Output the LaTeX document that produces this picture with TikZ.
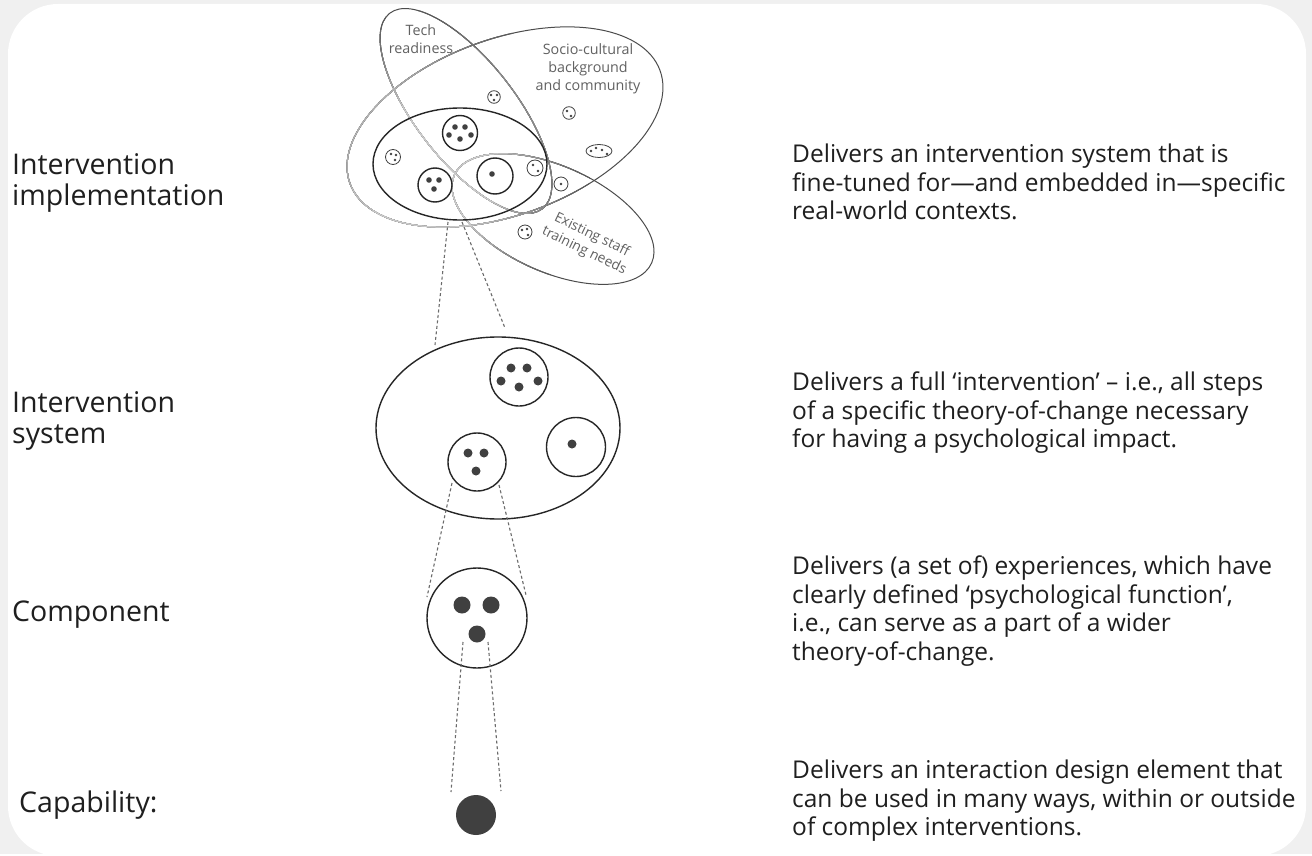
\documentclass[tikz,border=0pt]{standalone}
\usepackage{fontspec}
\setmainfont{Open Sans}
\begin{document}
\begin{tikzpicture}[x=1pt,y=-1pt,
  lvl/.style={anchor=west,align=left,inner sep=0,font=\fontsize{28.5}{31}\selectfont,text=black!88},
  desc/.style={anchor=west,align=left,inner sep=0,font=\fontsize{24.5}{28.5}\selectfont,text=black!88},
  ctx/.style={align=center,inner sep=0,font=\fontsize{14.3}{18}\selectfont,text=black!62},
  link/.style={draw=black!58,dash pattern=on 3pt off 2.5pt,line width=1.1pt},
  grp/.style={draw=black!85,line width=1.4pt},
  pip/.style={fill=black!75},
  speck/.style={draw=black!75,line width=0.8pt}]
% background card
\fill [black!6] (0,0) rectangle (1312,854);
\fill [white,rounded corners=50pt] (8,4) rectangle (1306,856);
\useasboundingbox (0,0) rectangle (1312,854);
% level names
\node [lvl] (implLbl) at (12,183) {Intervention\\implementation};
\node [lvl] (sysLbl) at (12,421) {Intervention\\system};
\node [lvl] (compLbl) at (12,615) {Component};
\node [lvl] (capLbl) at (19,805) {Capability:};
% descriptions
\node [desc] (implTxt) at (792,182) {Delivers an intervention system that is\\fine-tuned for---and embedded in---specific\\real-world contexts.};
\node [desc] (sysTxt) at (792,413) {Delivers a full `intervention' -- i.e., all steps\\of a specific theory-of-change necessary\\for having a psychological impact.};
\node [desc] (compTxt) at (792,611) {Delivers (a set of) experiences, which have\\clearly defined `psychological function',\\i.e., can serve as a part of a wider\\theory-of-change.};
\node [desc] (capTxt) at (792,801) {Delivers an interaction design element that\\can be used in many ways, within or outside\\of complex interventions.};
% context ellipses, fading towards the middle
\foreach \r/\c in {2000/70,160/65,150/60,140/55,130/50,120/45,110/40,100/35,90/30,80/25,70/20}
{
  \begin{scope}
  \clip (430,170) circle (\r);
  \foreach \cx/\cy/\ang/\ra/\rb in {466/111/-52/124/50,505/127/20/165/88,553/219/-24/108/53}
    \draw [draw=black!\c,line width=1pt,rotate around={\ang:(\cx,\cy)}] (\cx,\cy) ellipse [x radius=\ra, y radius=\rb];
  \end{scope}
}
\node [ctx] (tech) at (421,39) {Tech\\readiness};
\node [ctx] (socio) at (588,69) {Socio-cultural\\background\\and community};
\node [ctx,rotate=-26,font=\fontsize{13.8}{17.5}\selectfont] (staff) at (588,243) {Existing staff\\training needs};
% small context components
\draw [speck] (494,97) circle (6.3);
\foreach \p in {(491,95),(497,95),(494,100)} \fill [pip] \p circle (1.3);
\draw [speck] (569,113) circle (6.3);
\foreach \p in {(567,111),(571,116)} \fill [pip] \p circle (1.3);
\draw [speck] (599,151) ellipse [x radius=13, y radius=6.5];
\foreach \p in {(591,151),(596,148),(602,150),(607,154)} \fill [pip] \p circle (1.3);
\draw [speck] (561,184) circle (7);
\fill [pip] (561,184) circle (1.3);
\draw [speck] (525,232) circle (7);
\foreach \p in {(522,230),(527,229),(528,235)} \fill [pip] \p circle (1.3);
\draw [speck] (393,157) circle (7.5);
\foreach \p in {(391,154),(396,155),(395,160)} \fill [pip] \p circle (1.3);
\draw [speck] (535,168) circle (8);
\foreach \p in {(533,165),(538,171)} \fill [pip] \p circle (1.3);
% intervention implementation
\draw [grp] (460,164) ellipse [x radius=87, y radius=56];
\node [circle,grp,minimum size=35,inner sep=0] (implA) at (460,133) {};
\foreach \p in {(455,127),(465,127),(449,135),(471,135),(460,139)} \fill [pip] \p circle (2.8);
\node [circle,grp,minimum size=34,inner sep=0] (implB) at (435,185) {};
\foreach \p in {(429,180),(439,180),(434,189)} \fill [pip] \p circle (2.8);
\node [circle,grp,minimum size=36,inner sep=0] (implC) at (495,176) {};
\fill [pip] (492,174) circle (2.8);
% intervention system
\draw [grp] (498,428) ellipse [x radius=122, y radius=91];
\node [circle,grp,minimum size=58,inner sep=0] (sysA) at (519,377) {};
\foreach \p in {(511,368),(527,368),(501,381),(538,381),(519,387)} \fill [pip] \p circle (4.5);
\node [circle,grp,minimum size=58,inner sep=0] (sysB) at (477,462) {};
\foreach \p in {(468,453),(484,453),(476,471)} \fill [pip] \p circle (4.5);
\node [circle,grp,minimum size=59,inner sep=0] (sysC) at (576,447) {};
\fill [pip] (572,444) circle (4.5);
% component and capability
\node [circle,grp,minimum size=100,inner sep=0] (comp) at (477,618) {};
\foreach \p in {(462,605),(491,605),(477,634)} \fill [pip] \p circle (8.5);
\node [circle,fill=black!75,minimum size=40,inner sep=0] (cap) at (476,815) {};
% zoom lines
\coordinate (implL) at (448,222); \coordinate (implR) at (462,222);
\coordinate (sysTL) at (435,345); \coordinate (sysTR) at (505,328);
\coordinate (sysL) at (452,483); \coordinate (sysR) at (499,485);
\coordinate (compTL) at (427,597); \coordinate (compTR) at (526,595);
\coordinate (compL) at (463,642); \coordinate (compR) at (488,642);
\coordinate (capTL) at (451,792); \coordinate (capTR) at (501,791);
\draw [link] (implL) -- (sysTL);
\draw [link] (implR) -- (sysTR);
\draw [link] (sysL) -- (compTL);
\draw [link] (sysR) -- (compTR);
\draw [link] (compL) -- (capTL);
\draw [link] (compR) -- (capTR);
\end{tikzpicture}
\end{document}
